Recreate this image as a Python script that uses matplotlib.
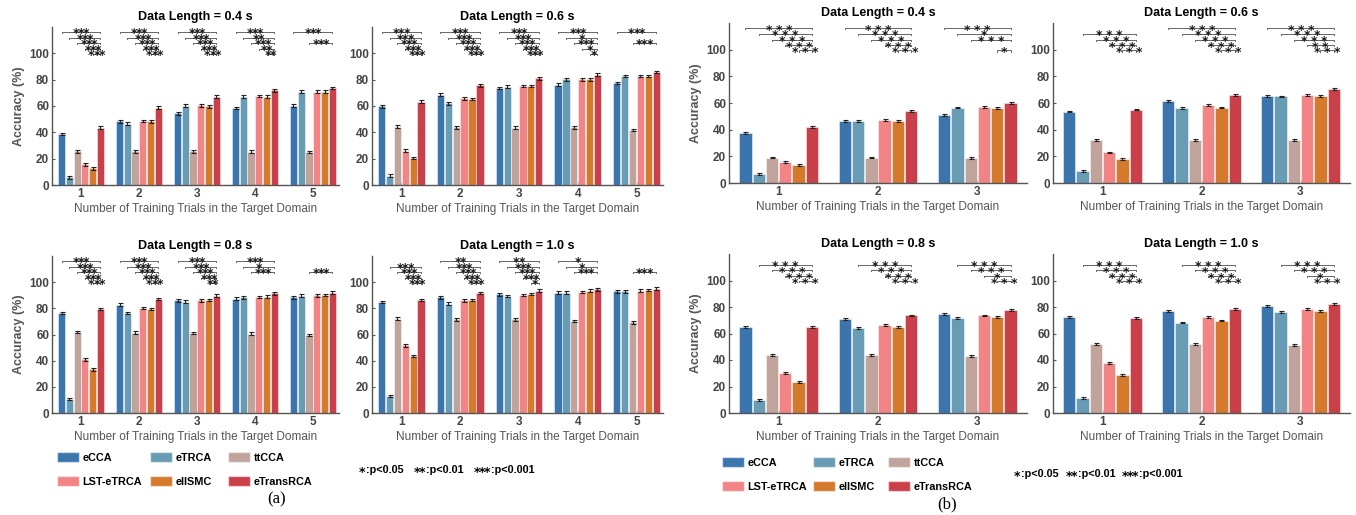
import matplotlib
matplotlib.use('Agg')
import matplotlib.pyplot as plt
import matplotlib.transforms as mtransforms
import numpy as np
from matplotlib.patches import Patch

plt.rcParams['font.family'] = ['Liberation Sans', 'DejaVu Sans']

methods = ['eCCA', 'eTRCA', 'ttCCA', 'LST-eTRCA', 'eIISMC', 'eTransRCA']
colors = ['#3A75AE', '#689CB4', '#C0A39B', '#F38486', '#D57A2C', '#C9404A']

# ---- (a): 5 training-trial settings; rows = methods ----
acc_a04 = [[38.7, 48.3, 54.5, 58.5, 60.3],
           [5.9, 46.6, 60.3, 67.2, 71.0],
           [25.6, 25.5, 25.5, 25.4, 25.0],
           [15.7, 48.5, 60.5, 67.5, 71.0],
           [12.7, 48.4, 59.8, 67.2, 71.0],
           [43.6, 58.8, 67.2, 72.0, 73.8]]
acc_a06 = [[59.8, 68.7, 73.8, 76.1, 77.6],
           [7.1, 62.1, 74.6, 80.2, 82.7],
           [44.3, 43.8, 43.5, 43.8, 41.9],
           [26.2, 65.9, 75.3, 80.2, 82.9],
           [20.6, 65.4, 75.3, 80.3, 82.7],
           [63.4, 75.6, 80.9, 83.9, 85.8]]
acc_a08 = [[76.3, 82.7, 86.0, 87.3, 88.5],
           [10.7, 76.3, 85.2, 88.3, 89.6],
           [61.8, 61.3, 61.1, 60.6, 59.5],
           [40.9, 80.2, 86.0, 88.8, 89.9],
           [33.3, 79.6, 86.5, 88.9, 90.3],
           [79.6, 87.0, 89.6, 91.4, 92.0]]
acc_a10 = [[84.7, 88.5, 90.6, 92.1, 92.9],
           [12.9, 83.5, 89.3, 92.1, 92.9],
           [72.0, 71.6, 71.5, 70.3, 69.3],
           [51.8, 86.1, 90.1, 92.6, 93.4],
           [43.6, 86.4, 91.1, 93.4, 93.9],
           [86.5, 91.7, 93.6, 94.5, 95.0]]

# ---- (b): 3 training-trial settings ----
acc_b04 = [[37.8, 46.4, 51.2],
           [7.0, 46.4, 56.6],
           [19.1, 19.1, 18.9],
           [16.0, 47.2, 57.1],
           [13.8, 46.8, 56.4],
           [42.1, 53.9, 60.3]]
acc_b06 = [[53.6, 61.6, 65.4],
           [8.8, 56.1, 64.9],
           [32.1, 32.1, 32.2],
           [22.9, 58.2, 66.2],
           [18.3, 56.6, 65.2],
           [55.1, 65.7, 70.7]]
acc_b08 = [[65.0, 71.0, 74.8],
           [10.1, 63.9, 71.9],
           [43.8, 43.5, 42.9],
           [30.2, 66.6, 73.6],
           [23.2, 64.7, 72.5],
           [65.0, 73.6, 77.6]]
acc_b10 = [[72.6, 77.3, 80.6],
           [11.5, 68.3, 76.5],
           [52.2, 51.9, 51.3],
           [37.5, 72.6, 78.6],
           [28.4, 69.8, 77.3],
           [71.8, 78.8, 82.1]]

err_a = 1.0
err_b = 0.7

# significance (number of stars) of each method vs eTransRCA, per group
sig_a04 = [[3, 3, 3, 3, 3], [3, 3, 3, 3, 3], [3, 3, 3, 3, 3], [3, 2, 3, 2, 2], [3, 0, 3, 0, 0]]
sig_a06 = [[3, 3, 3, 3, 3], [3, 3, 3, 3, 3], [3, 3, 3, 3, 3], [3, 1, 3, 1, 1], [3, 0, 3, 0, 0]]
sig_a08 = [[3, 3, 3, 3, 3], [3, 3, 3, 3, 3], [3, 3, 3, 3, 2], [3, 1, 3, 0, 0], [0, 0, 3, 0, 0]]
sig_a10 = [[0, 3, 3, 3, 3], [2, 3, 3, 3, 3], [2, 3, 3, 3, 1], [1, 1, 3, 0, 0], [0, 0, 3, 0, 0]]
sig_b04 = [[3, 3, 3, 3, 3], [3, 3, 3, 3, 3], [3, 1, 3, 0, 1]]
sig_b06 = [[0, 3, 3, 3, 3], [3, 3, 3, 3, 3], [3, 3, 3, 2, 3]]
sig_b08 = [[0, 3, 3, 3, 3], [0, 3, 3, 3, 3], [0, 3, 3, 1, 3]]
sig_b10 = [[0, 3, 3, 3, 3], [0, 3, 3, 3, 3], [0, 3, 3, 1, 3]]
sig_rows = [116, 111.8, 107.6, 103.4, 99.4]

W, H = 1356, 515
fig = plt.figure(figsize=(W / 100, H / 100), dpi=100)


def add_ax(l, t, r, b):
    return fig.add_axes([l / W, 1 - b / H, (r - l) / W, (b - t) / H])


GRAY = '#555555'
STEP = 0.134
BW = 0.124
STAR_FS = 8.8


def stars(ax, xc, y, n, spacing_pt, dy_pt):
    for k in range(n):
        dx = (k - (n - 1) / 2) * spacing_pt
        ax.annotate('*', xy=(xc, y), xytext=(dx, dy_pt), textcoords='offset points',
                    ha='center', va='baseline', fontsize=STAR_FS, fontweight='bold',
                    color='#1a1a1a', family=['DejaVu Sans'], zorder=4,
                    annotation_clip=False)


def draw(ax, acc, sig, length, part):
    n = len(acc[0])
    groups = np.arange(1, n + 1)
    err = err_a if part == 'a' else err_b
    for i in range(6):
        x = groups + (i - 2.5) * STEP
        ax.bar(x, acc[i], width=BW, color=colors[i], edgecolor=(1, 1, 1, 0.55),
               linewidth=0.6, yerr=err, capsize=1.8,
               error_kw=dict(elinewidth=0.8, capthick=0.8, ecolor='#222222'),
               zorder=2)
    spacing = 3.7 if part == 'a' else 7.2
    dy = -3.6 if part == 'a' else -4.0
    for g, row in enumerate(sig):
        xe = groups[g] + 2.5 * STEP
        for i, s in enumerate(row):
            if s == 0:
                continue
            xs = groups[g] + (i - 2.5) * STEP
            y = sig_rows[i]
            ax.plot([xs, xs, xe, xe], [y - 0.8, y, y, y - 0.8], color='#666666',
                    lw=0.7, clip_on=False, zorder=3)
            stars(ax, (xs + xe) / 2, y, s, spacing, dy)
    ax.set_ylim(0, 120)
    ax.set_yticks(range(0, 101, 20))
    if part == 'a':
        ax.set_xlim(0.5, 5.45)
    else:
        ax.set_xlim(0.5, 3.5)
    ax.set_xticks(groups)
    ax.tick_params(axis='both', direction='in', length=2.5, width=0.8, color=GRAY,
                   labelsize=8.5, labelcolor='#444444', pad=2)
    for lab in ax.get_xticklabels() + ax.get_yticklabels():
        lab.set_fontweight('bold')
    for sp in ['top', 'right']:
        ax.spines[sp].set_visible(False)
    for sp in ['left', 'bottom']:
        ax.spines[sp].set_color(GRAY)
        ax.spines[sp].set_linewidth(1.0)
    ax.set_title('Data Length = %s s' % length, fontsize=9, fontweight='bold', pad=5)
    ax.set_xlabel('Number of Training Trials in the Target Domain', fontsize=8.5,
                  color=GRAY, labelpad=2)
    ax.set_ylabel('Accuracy (%)', fontsize=9, fontweight='bold', color=GRAY, labelpad=3)


panels = [
    (acc_a04, sig_a04, '0.4', (52, 27, 339, 185), 'a'),
    (acc_a06, sig_a06, '0.6', (372, 27, 663, 185), 'a'),
    (acc_a08, sig_a08, '0.8', (52, 256, 339, 413), 'a'),
    (acc_a10, sig_a10, '1.0', (372, 256, 663, 413), 'a'),
    (acc_b04, sig_b04, '0.4', (729, 23, 1027, 183), 'b'),
    (acc_b06, sig_b06, '0.6', (1053, 23, 1350, 183), 'b'),
    (acc_b08, sig_b08, '0.8', (729, 254, 1027, 413), 'b'),
    (acc_b10, sig_b10, '1.0', (1053, 254, 1350, 413), 'b'),
]

axes = []
for acc, sig, length, box, part in panels:
    ax = add_ax(*box)
    draw(ax, acc, sig, length, part)
    axes.append(ax)
for k in [1, 3, 5, 7]:
    axes[k].set_ylabel('')

# legends: one single-column legend per column for exact placement
columns = [[0, 3], [1, 4], [2, 5]]
for xcols, ytop in [((57, 150, 228), 452), ((722, 813, 888), 457)]:
    for x0, col in zip(xcols, columns):
        handles = [Patch(facecolor=colors[i], edgecolor=(1, 1, 1, 0.5)) for i in col]
        labels = [methods[i] for i in col]
        fig.legend(handles, labels, ncol=1, loc='upper left',
                   bbox_to_anchor=(x0 / W, 1 - ytop / H), frameon=False,
                   prop=dict(size=7.8, weight='bold'), handlelength=2.0,
                   handleheight=1.1, handletextpad=0.35, labelspacing=1.2,
                   borderaxespad=0, borderpad=0)

fig.text(277 / W, 1 - 499 / H, '(a)', ha='center', va='center', fontsize=12,
         family=['Liberation Serif'])
fig.text(947 / W, 1 - 504 / H, '(b)', ha='center', va='center', fontsize=12,
         family=['Liberation Serif'])

plabels = [':p<0.05', ':p<0.01', ':p<0.001']
for xs, y in [((360, 415, 475), 470), ((1015, 1067, 1123), 474)]:
    for n, (x, t) in enumerate(zip(xs, plabels), start=1):
        for k in range(n):
            tr = mtransforms.offset_copy(fig.transFigure, fig=fig,
                                         x=(2.4 + 4.7 * k) * 0.72, y=-2.2, units='points')
            fig.text(x / W, 1 - (y + 2.8) / H, '*', ha='center', va='baseline',
                     fontsize=9, fontweight='bold', family=['DejaVu Sans'],
                     transform=tr)
        fig.text((x + 4.7 * n + 1.5) / W, 1 - (y + 2.8) / H, t, ha='left',
                 va='baseline', fontsize=7.8, fontweight='bold')

fig.savefig('out.png', dpi=100)
